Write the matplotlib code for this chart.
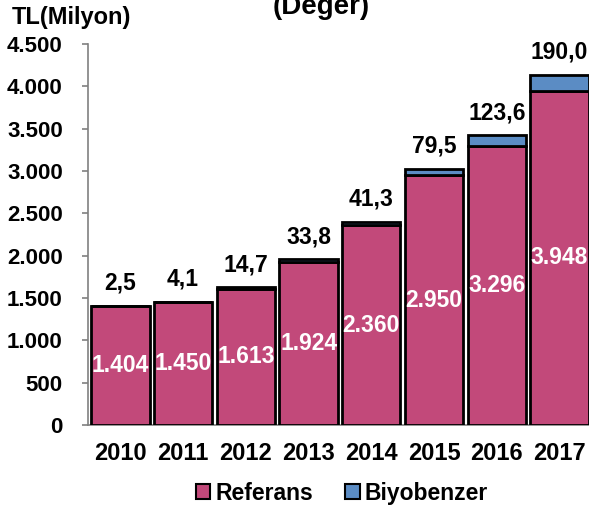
import matplotlib
matplotlib.use("Agg")
import matplotlib.pyplot as plt
from matplotlib.patches import Patch
import numpy as np

years = ["2010", "2011", "2012", "2013", "2014", "2015", "2016", "2017"]
referans = [1404, 1450, 1613, 1924, 2360, 2950, 3296, 3948]
biyobenzer = [2.5, 4.1, 14.7, 33.8, 41.3, 79.5, 123.6, 190.0]
referans_labels = ["1.404", "1.450", "1.613", "1.924", "2.360", "2.950", "3.296", "3.948"]
biyobenzer_labels = ["2,5", "4,1", "14,7", "33,8", "41,3", "79,5", "123,6", "190,0"]
yticks = [0, 500, 1000, 1500, 2000, 2500, 3000, 3500, 4000, 4500]
ytick_labels = ["0", "500", "1.000", "1.500", "2.000", "2.500", "3.000", "3.500", "4.000", "4.500"]

plt.rcParams['font.family'] = ['Liberation Sans', 'DejaVu Sans']
plt.rcParams['font.weight'] = 'bold'

pink = '#C2497A'
blue = '#5B8CC4'

fig = plt.figure(figsize=(5.89, 5.11), dpi=100)
ax = fig.add_axes([0.149, 0.168, 0.851, 0.746])

x = np.arange(len(years))
w = 0.93
ax.bar(x, referans, w, color=pink, edgecolor='black', linewidth=2, zorder=3)
ax.bar(x, biyobenzer, w, bottom=referans, color=blue, edgecolor='black', linewidth=2, zorder=3)

for xi, r, lab in zip(x, referans, referans_labels):
    ax.text(xi, r / 2, lab, ha='center', va='center', color='white',
            fontsize=16.5, fontweight='bold', zorder=5)
for xi, r, b, lab in zip(x, referans, biyobenzer, biyobenzer_labels):
    ax.annotate(lab, (xi, r + b), xytext=(0, 8), textcoords='offset points',
                ha='center', va='bottom', fontsize=16.5, fontweight='bold', color='black')

ax.set_xlim(-0.52, 7.47)
ax.set_ylim(0, 4500)
ax.set_yticks(yticks)
ax.set_yticklabels(ytick_labels)
ax.set_xticks(x)
ax.set_xticklabels(years)
ax.tick_params(axis='y', length=4, width=1.2, color='#808080', pad=14, labelsize=16)
ax.tick_params(axis='x', length=0, pad=12, labelsize=17)
for lab in ax.get_xticklabels() + ax.get_yticklabels():
    lab.set_fontweight('bold')

for s in ['top', 'right']:
    ax.spines[s].set_visible(False)
for s in ['left', 'bottom']:
    ax.spines[s].set_color('#808080')
    ax.spines[s].set_linewidth(1.2)

fig.text(0.02, 1 - 24 / 511, "TL(Milyon)", fontsize=17, fontweight='bold', va='baseline', ha='left')
fig.text(0.545, 1 - 14 / 511, "(Değer)", fontsize=20, fontweight='bold', va='baseline', ha='center')

handles = [Patch(facecolor=pink, edgecolor='black', linewidth=1.5, label='Referans'),
           Patch(facecolor=blue, edgecolor='black', linewidth=1.5, label='Biyobenzer')]
leg = fig.legend(handles=handles, loc='center', bbox_to_anchor=(0.58, 1 - 493 / 511),
                 ncol=2, frameon=False, handlelength=0.65, handleheight=0.65,
                 handletextpad=0.2, columnspacing=1.4, prop={'size': 16.5, 'weight': 'bold'})

fig.savefig("out.png", dpi=100)
